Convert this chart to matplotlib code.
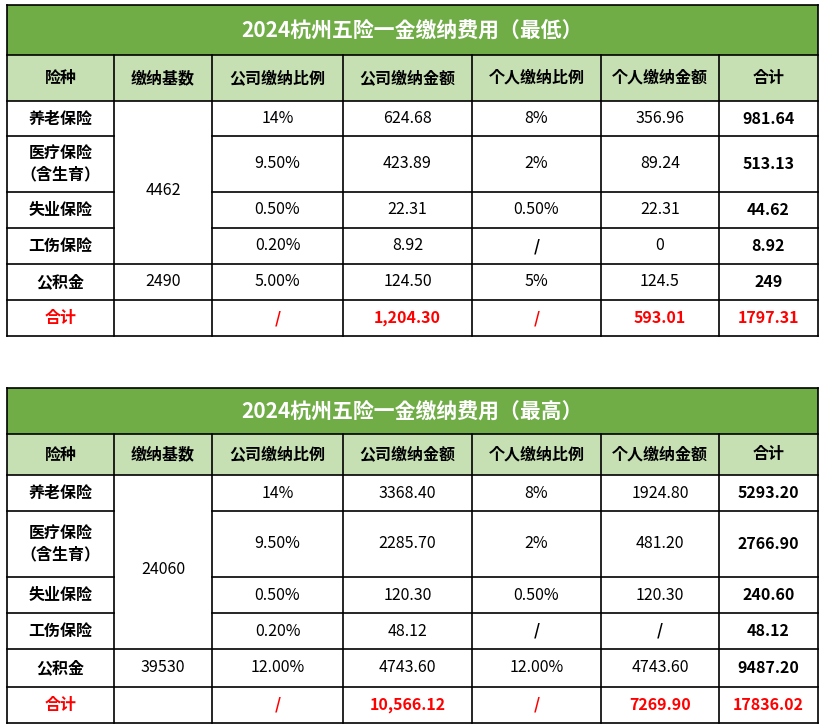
import matplotlib
matplotlib.use("Agg")
import matplotlib.pyplot as plt
from matplotlib.patches import Rectangle
from matplotlib import font_manager as fm

avail = {f.name for f in fm.fontManager.ttflist}
cands = [n for n in ["Noto Sans CJK SC", "Noto Sans CJK JP", "Noto Sans CJK TC", "Noto Sans CJK KR",
                     "Noto Sans SC", "Noto Sans CJK"] if n in avail]
cands += [f.name for f in fm.fontManager.ttflist if "CJK" in f.name and f.name not in cands]
plt.rcParams["font.family"] = (cands or []) + ["DejaVu Sans"]

headers = ["险种", "缴纳基数", "公司缴纳比例", "公司缴纳金额", "个人缴纳比例", "个人缴纳金额", "合计"]
categories = ["养老保险", "医疗保险\n（含生育）", "失业保险", "工伤保险", "公积金", "合计"]

title_low = "2024杭州五险一金缴纳费用（最低）"
base_low = ["4462", "2490"]
comp_rate_low = ["14%", "9.50%", "0.50%", "0.20%", "5.00%", "/"]
comp_amt_low = ["624.68", "423.89", "22.31", "8.92", "124.50", "1,204.30"]
pers_rate_low = ["8%", "2%", "0.50%", "/", "5%", "/"]
pers_amt_low = ["356.96", "89.24", "22.31", "0", "124.5", "593.01"]
total_low = ["981.64", "513.13", "44.62", "8.92", "249", "1797.31"]

title_high = "2024杭州五险一金缴纳费用（最高）"
base_high = ["24060", "39530"]
comp_rate_high = ["14%", "9.50%", "0.50%", "0.20%", "12.00%", "/"]
comp_amt_high = ["3368.40", "2285.70", "120.30", "48.12", "4743.60", "10,566.12"]
pers_rate_high = ["8%", "2%", "0.50%", "/", "12.00%", "/"]
pers_amt_high = ["1924.80", "481.20", "120.30", "/", "4743.60", "7269.90"]
total_high = ["5293.20", "2766.90", "240.60", "48.12", "9487.20", "17836.02"]

W, H = 825, 726
fig = plt.figure(figsize=(W / 100, H / 100), dpi=100)
ax = fig.add_axes([0, 0, 1, 1])
ax.set_xlim(0, W)
ax.set_ylim(H, 0)
ax.axis("off")

cols = [7, 114, 212, 343, 472, 601, 719, 818]
GREEN = "#70AD47"
LIGHT = "#C6E0B4"
RED = "#FF0000"


def line(x0, y0, x1, y1):
    ax.plot([x0, x1], [y0, y1], color="black", lw=1.2, solid_capstyle="projecting")


def draw(title, ys, base, cr, ca, pr, pa, tot):
    ax.add_patch(Rectangle((cols[0], ys[0]), cols[-1] - cols[0], ys[1] - ys[0], color=GREEN, lw=0))
    ax.add_patch(Rectangle((cols[0], ys[1]), cols[-1] - cols[0], ys[2] - ys[1], color=LIGHT, lw=0))
    ax.text((cols[0] + cols[-1]) / 2, (ys[0] + ys[1]) / 2, title, color="white", fontsize=15,
            fontweight="bold", ha="center", va="center")
    for i, h in enumerate(headers):
        ax.text((cols[i] + cols[i + 1]) / 2, (ys[1] + ys[2]) / 2, h, fontsize=11.5, fontweight="bold",
                ha="center", va="center")
    rows = ys[2:]
    line(cols[0], ys[0], cols[-1], ys[0])
    line(cols[0], ys[1], cols[-1], ys[1])
    for k, y in enumerate(rows):
        if 1 <= k <= 3:
            line(cols[0], y, cols[1], y)
            line(cols[2], y, cols[-1], y)
        else:
            line(cols[0], y, cols[-1], y)
    line(cols[0], ys[0], cols[0], rows[-1])
    line(cols[-1], ys[0], cols[-1], rows[-1])
    for c in cols[1:-1]:
        line(c, ys[1], c, rows[-1])
    for r in range(6):
        yc = (rows[r] + rows[r + 1]) / 2
        red = r == 5
        colr = RED if red else "black"
        ax.text((cols[0] + cols[1]) / 2, yc, categories[r], fontsize=11.5, fontweight="bold",
                ha="center", va="center", color=colr, linespacing=1.4)
        vals = [cr[r], ca[r], pr[r], pa[r], tot[r]]
        for j, v in enumerate(vals):
            ci = j + 2
            bold = red or ci == 6 or v == "/"
            ax.text((cols[ci] + cols[ci + 1]) / 2, yc, v, fontsize=11.5,
                    fontweight="bold" if bold else "normal", ha="center", va="center", color=colr)
    ax.text((cols[1] + cols[2]) / 2, (rows[0] + rows[4]) / 2 + 8, base[0], fontsize=11.5,
            ha="center", va="center")
    ax.text((cols[1] + cols[2]) / 2, (rows[4] + rows[5]) / 2, base[1], fontsize=11.5,
            ha="center", va="center")


draw(title_low, [5, 55, 101, 136, 192, 228, 264, 300, 336],
     base_low, comp_rate_low, comp_amt_low, pers_rate_low, pers_amt_low, total_low)
draw(title_high, [388, 434, 475, 511, 577, 613, 649, 687, 723],
     base_high, comp_rate_high, comp_amt_high, pers_rate_high, pers_amt_high, total_high)

fig.savefig("out.png", dpi=100, facecolor="white")
